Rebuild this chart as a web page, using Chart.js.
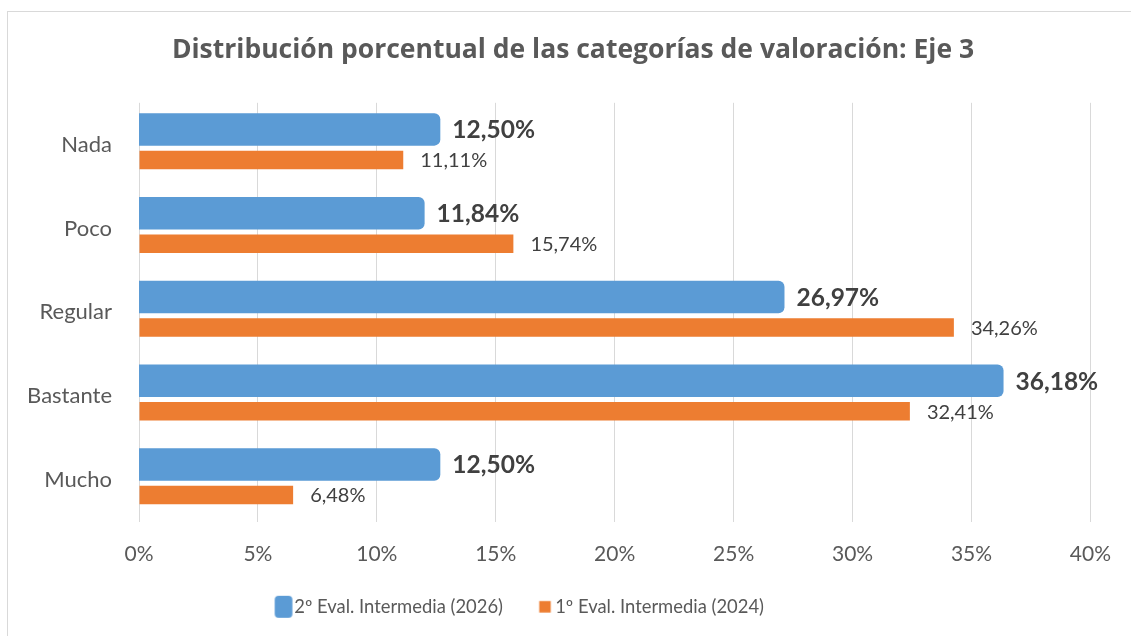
<!DOCTYPE html>
<html><head><meta charset="utf-8">
<script src="https://cdn.jsdelivr.net/npm/chart.js@4.4.1/dist/chart.umd.min.js"></script>
<style>
html,body{margin:0;padding:0;background:#fff;overflow:hidden;}
#wrap{position:relative;width:1131px;height:636px;overflow:hidden;}
#frame{position:absolute;left:7px;top:11px;width:1200px;height:700px;border:1px solid #d9d9d9;box-sizing:border-box;}
canvas{position:absolute;left:0;top:0;}
</style></head><body>
<div id="wrap"><div id="frame"></div><canvas id="c" width="1131" height="636"></canvas></div>
<script>
const categories = ['Nada', 'Poco', 'Regular', 'Bastante', 'Mucho'];
const eval2026 = [12.50, 11.84, 26.97, 36.18, 12.50];
const eval2024 = [11.11, 15.74, 34.26, 32.41, 6.48];
const seriesNames = ['2º Eval. Intermedia (2026)', '1º Eval. Intermedia (2024)'];
const xMin = 0, xMax = 40, xStep = 5;
const titleText = 'Distribución porcentual de las categorías de valoración: Eje 3';

const BLUE = '#5B9BD5', ORANGE = '#ED7D31';
const FONT = 'Lato, "Open Sans", sans-serif';
const TITLE_FONT = '"Open Sans", Lato, sans-serif';
const fmt = v => v.toFixed(2).replace('.', ',') + '%';

function makeIcon(boxW, boxH, offX, color, radius) {
  const c = document.createElement('canvas');
  c.width = 40; c.height = 24;
  const ctx = c.getContext('2d');
  ctx.fillStyle = color;
  const x = 20 + offX - boxW / 2, y = 12 - boxH / 2;
  ctx.beginPath();
  if (radius > 0) ctx.roundRect(x, y, boxW, boxH, radius); else ctx.rect(x, y, boxW, boxH);
  ctx.fill();
  return c;
}
const icons = [makeIcon(17.7, 22, 10, BLUE, 4), makeIcon(11.5, 11.5, 10.5, ORANGE, 0)];

const labelPlugin = {
  id: 'valueLabels',
  afterLayout(chart) {
    // centre legend and title the way the reference does
    if (chart.legend) { chart.legend.left -= 33; chart.legend.right -= 33; }
    if (chart.titleBlock) { chart.titleBlock.left += 27; chart.titleBlock.right += 27; }
  },
  afterDatasetsDraw(chart) {
    const ctx = chart.ctx;
    chart.data.datasets.forEach((ds, di) => {
      const meta = chart.getDatasetMeta(di);
      meta.data.forEach((bar, i) => {
        ctx.save();
        ctx.fillStyle = '#404040';
        ctx.textAlign = 'left';
        ctx.textBaseline = 'middle';
        if (di === 0) {
          ctx.font = 'bold 24.5px ' + FONT;
          ctx.fillText(fmt(ds.data[i]), bar.x + 16, bar.y + 1);
        } else {
          ctx.font = '20px ' + FONT;
          ctx.fillText(fmt(ds.data[i]), bar.x + 17, bar.y + 1);
        }
        ctx.restore();
      });
    });
  }
};

new Chart(document.getElementById('c'), {
  type: 'bar',
  data: {
    labels: categories,
    datasets: [
      { label: seriesNames[0], data: eval2026, backgroundColor: BLUE, barPercentage: 0.80,
        categoryPercentage: 0.728, borderRadius: 6, borderSkipped: 'start', inflateAmount: 4 },
      { label: seriesNames[1], data: eval2024, backgroundColor: ORANGE, barPercentage: 0.61,
        categoryPercentage: 0.728, borderRadius: 0, inflateAmount: 0 }
    ]
  },
  options: {
    indexAxis: 'y',
    responsive: false,
    animation: false,
    devicePixelRatio: 1,
    layout: { padding: { left: 0, right: 39, top: 0, bottom: 10 } },
    scales: {
      x: {
        min: xMin, max: xMax,
        ticks: { stepSize: xStep, padding: 20, color: '#595959', font: { family: FONT, size: 21 },
                 callback: v => v + '%' },
        grid: { color: '#d9d9d9', lineWidth: 1, drawTicks: false },
        border: { display: false },
        afterFit(s) { s.height = 56; }
      },
      y: {
        ticks: { padding: 27, color: '#595959', font: { family: FONT, size: 22 } },
        grid: { display: false, drawTicks: false },
        border: { display: false },
        afterFit(s) { s.width = 139; }
      }
    },
    plugins: {
      title: { display: true, text: titleText, color: '#595959',
               font: { family: TITLE_FONT, size: 26.5, weight: 'bold' }, padding: { top: 35, bottom: 36 } },
      legend: {
        position: 'bottom',
        labels: {
          usePointStyle: true, pointStyleWidth: 23, padding: 20, color: '#595959',
          font: { family: FONT, size: 18.4 },
          generateLabels(chart) {
            return chart.data.datasets.map((ds, i) => ({
              text: ds.label, fillStyle: ds.backgroundColor, strokeStyle: ds.backgroundColor,
              lineWidth: 0, pointStyle: icons[i], datasetIndex: i, hidden: false, fontColor: '#595959'
            }));
          }
        }
      },
      tooltip: { enabled: false }
    }
  },
  plugins: [labelPlugin]
});
</script>
</body></html>
